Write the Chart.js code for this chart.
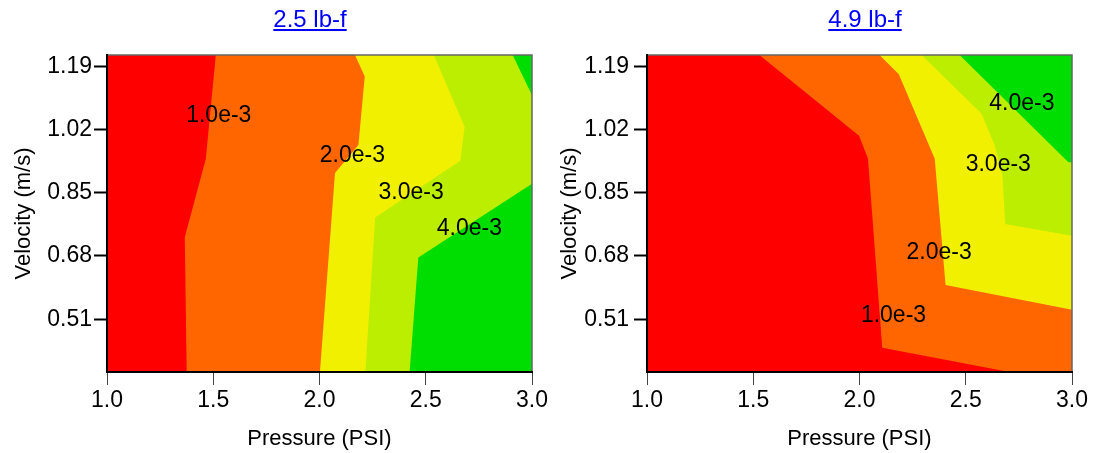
<!DOCTYPE html>
<html>
<head>
<meta charset="utf-8">
<script src="https://cdn.jsdelivr.net/npm/chart.js@4.4.1/dist/chart.umd.min.js"></script>
<style>
  body { margin: 0; background: #fff; }
  .wrap { position: relative; width: 1100px; height: 453px; overflow: hidden; }
  canvas { position: absolute; top: 0; }
  #leftChart { left: 0; }
  #rightChart { left: 540px; }
</style>
</head>
<body>
<div class="wrap">
  <canvas id="leftChart" width="560" height="453"></canvas>
  <canvas id="rightChart" width="560" height="453"></canvas>
</div>
<script>
// axis ranges and ticks
const P_MIN = 1.0, P_MAX = 3.0;
const VEL_MIN = 0.368, VEL_MAX = 1.22;
const pressureTicks = [1.0, 1.5, 2.0, 2.5, 3.0];
const velocityTicks = [0.51, 0.68, 0.85, 1.02, 1.19];
const levelLabels = ['1.0e-3', '2.0e-3', '3.0e-3', '4.0e-3'];

// 2.5 lb-f: contour lines (pressure, velocity), drawn from top edge down
const lo1P = [1.512, 1.465, 1.366, 1.375];
const lo1V = [1.22, 0.941, 0.730, 0.368];
const lo2P = [2.167, 2.213, 2.183, 2.073, 2.002];
const lo2V = [1.22, 1.162, 0.978, 0.903, 0.368];
const lo3P = [2.538, 2.683, 2.663, 2.262, 2.216];
const lo3V = [1.22, 1.027, 0.936, 0.783, 0.368];
const lo4aP = [2.909, 3.0];
const lo4aV = [1.22, 1.112];
const lo4bP = [3.0, 2.465, 2.424];
const lo4bV = [0.874, 0.676, 0.368];
const loLabelP = [1.526, 2.155, 2.431, 2.705];
const loLabelV = [1.056, 0.950, 0.849, 0.752];

// 4.9 lb-f
const hi1P = [1.529, 1.998, 2.040, 2.107, 2.706];
const hi1V = [1.22, 1.003, 0.941, 0.433, 0.368];
const hi2P = [2.094, 2.185, 2.354, 2.405, 3.0];
const hi2V = [1.22, 1.168, 0.941, 0.602, 0.535];
const hi3P = [2.293, 2.574, 2.636, 2.673, 2.686, 3.0];
const hi3V = [1.22, 1.063, 0.978, 0.896, 0.766, 0.734];
const hi4P = [2.471, 2.983, 3.0];
const hi4V = [1.22, 0.932, 0.932];
const hiLabelP = [2.160, 2.375, 2.653, 2.764];
const hiLabelV = [0.520, 0.690, 0.926, 1.089];

const bandColors = ['#ff0000', '#ff6600', '#f0f000', '#bbee00', '#00dd00'];
const FONT = '"Liberation Sans", Arial, sans-serif';
Chart.defaults.font.family = FONT;

// close a contour line into the region on its high side (towards high pressure)
function region(ps, vs) {
  const pts = ps.map((p, i) => ({x: p, y: vs[i]}));
  if (Math.abs(pts[pts.length - 1].y - VEL_MIN) < 1e-6) pts.push({x: P_MAX, y: VEL_MIN});
  if (Math.abs(pts[0].y - VEL_MAX) < 1e-6) pts.push({x: P_MAX, y: VEL_MAX});
  return pts;
}

function band(points, level) {
  return {
    data: points,
    fill: 'shape',
    backgroundColor: bandColors[level],
    borderColor: 'rgba(0,0,0,0)',
    borderWidth: 0,
    pointRadius: 0,
    tension: 0,
    order: 10 - level
  };
}

const extras = {
  id: 'extras',
  afterDatasetsDraw(chart, args, o) {
    const {ctx, chartArea: a, scales: {x, y}} = chart;
    ctx.save();
    // thin frame along top and right
    ctx.strokeStyle = '#666';
    ctx.lineWidth = 1.5;
    ctx.beginPath();
    ctx.moveTo(a.left, a.top);
    ctx.lineTo(a.right, a.top);
    ctx.lineTo(a.right, a.bottom);
    ctx.stroke();
    // level labels
    ctx.fillStyle = '#000';
    ctx.font = '23px ' + FONT;
    ctx.textAlign = 'center';
    ctx.textBaseline = 'middle';
    levelLabels.forEach((t, i) => {
      ctx.fillText(t, x.getPixelForValue(o.labelP[i]), y.getPixelForValue(o.labelV[i]));
    });
    ctx.restore();
  },
  afterDraw(chart, args, o) {
    // underlined heading
    const ctx = chart.ctx;
    ctx.save();
    ctx.font = '24px ' + FONT;
    ctx.fillStyle = '#0000ff';
    ctx.textAlign = 'center';
    ctx.textBaseline = 'alphabetic';
    ctx.fillText(o.heading, o.headingX, 27);
    const w = ctx.measureText(o.heading).width;
    ctx.fillRect(o.headingX - w / 2, 29, w, 2);
    ctx.restore();
  }
};

function makeChart(id, datasets, opts) {
  return new Chart(document.getElementById(id), {
    type: 'line',
    data: {datasets},
    plugins: [extras],
    options: {
      responsive: false,
      animation: false,
      events: [],
      layout: {padding: {top: 55, right: 28, bottom: 0, left: 0}},
      plugins: {
        legend: {display: false},
        tooltip: {enabled: false},
        extras: opts
      },
      scales: {
        x: {
          type: 'linear',
          min: P_MIN,
          max: P_MAX,
          afterBuildTicks: s => { s.ticks = pressureTicks.map(v => ({value: v})); },
          afterFit: s => { s.height = 81; },
          ticks: {color: '#000', font: {size: 23}, padding: 2, maxRotation: 0, autoSkip: false,
                  callback: v => v.toFixed(1)},
          grid: {drawOnChartArea: false, tickLength: 13, tickColor: '#444', tickWidth: 1},
          border: {color: '#000', width: 2, z: 1},
          title: {display: true, text: 'Pressure (PSI)', color: '#000', font: {size: 22},
                  padding: {top: 0, bottom: 1}}
        },
        y: {
          type: 'linear',
          min: VEL_MIN,
          max: VEL_MAX,
          afterBuildTicks: s => { s.ticks = velocityTicks.map(v => ({value: v})); },
          afterFit: s => { s.width = 107; },
          ticks: {color: '#000', font: {size: 23}, padding: opts.tickPad, autoSkip: false,
                  callback: v => v.toFixed(2)},
          grid: {drawOnChartArea: false, tickLength: 13, tickColor: '#000', tickWidth: 2},
          border: {color: '#000', width: 2, z: 1},
          title: {display: true, text: 'Velocity (m/s)', color: '#000', font: {size: 22},
                  padding: {top: opts.titlePad, bottom: 0}}
        }
      }
    }
  });
}

const baseRect = [
  {x: P_MIN, y: VEL_MIN}, {x: P_MIN, y: VEL_MAX}, {x: P_MAX, y: VEL_MAX}, {x: P_MAX, y: VEL_MIN}
];

makeChart('leftChart', [
  band(region(lo4aP, lo4aV), 4),
  band(region(lo4bP, lo4bV), 4),
  band(region(lo3P, lo3V), 3),
  band(region(lo2P, lo2V), 2),
  band(region(lo1P, lo1V), 1),
  band(baseRect, 0)
], {heading: '2.5 lb-f', headingX: 310, tickPad: 2, titlePad: 11, labelP: loLabelP, labelV: loLabelV});

makeChart('rightChart', [
  band(region(hi4P, hi4V), 4),
  band(region(hi3P, hi3V), 3),
  band(region(hi2P, hi2V), 2),
  band(region(hi1P, hi1V), 1),
  band(baseRect, 0)
], {heading: '4.9 lb-f', headingX: 325, tickPad: 5, titlePad: 17, labelP: hiLabelP, labelV: hiLabelV});
</script>
</body>
</html>
